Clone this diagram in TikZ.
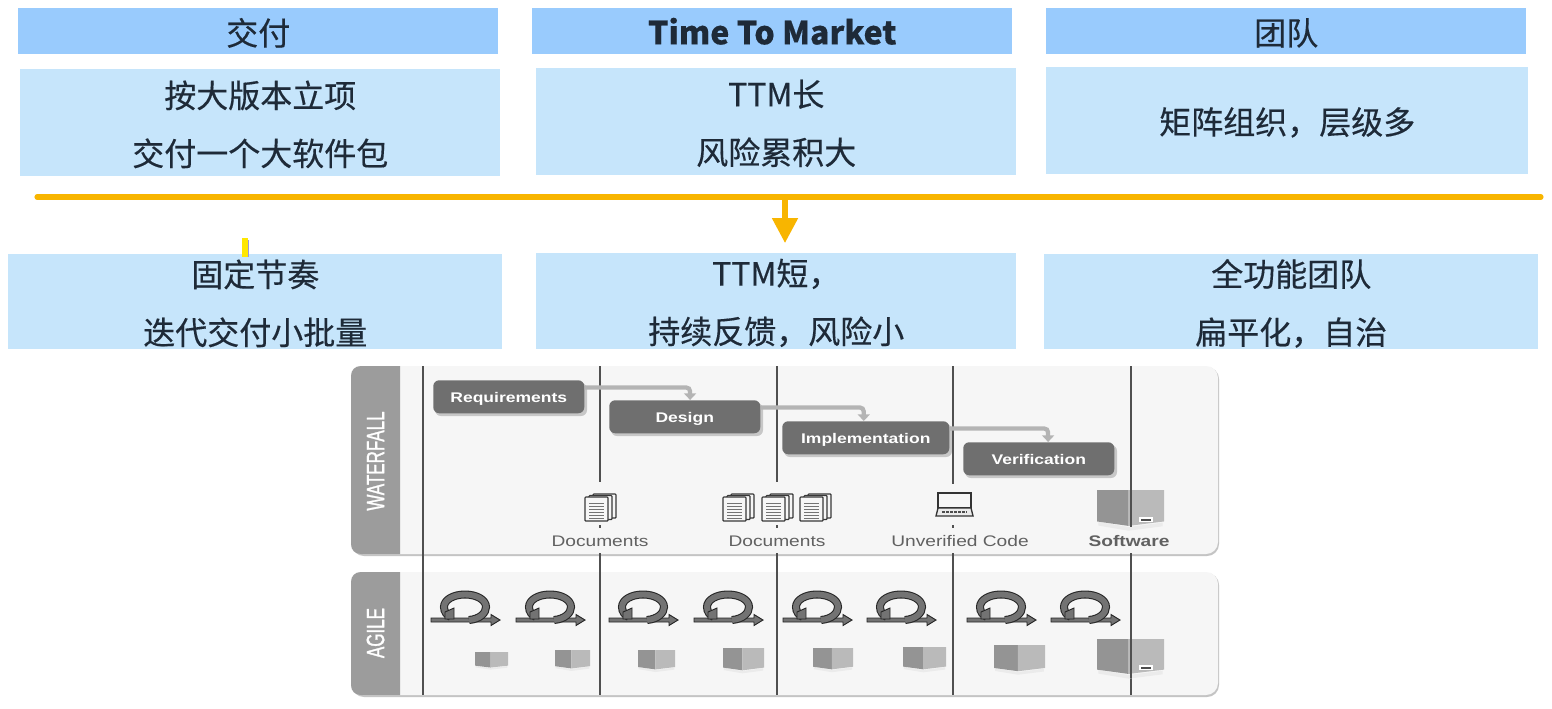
\documentclass[tikz,border=0pt]{standalone}
\usepackage{fontspec}
\usetikzlibrary{arrows.meta}
\setmainfont[FakeBold=0.35]{Noto Sans CJK SC}
\newfontfamily\wide[FakeStretch=1.25]{Liberation Sans}
\newfontfamily\narrow[FakeStretch=0.68,FakeBold=1.2]{Liberation Sans}
\definecolor{hdrblue}{HTML}{99CBFD}
\definecolor{bodyblue}{HTML}{C6E5FB}
\definecolor{inkc}{HTML}{1E2A38}
\definecolor{orangec}{HTML}{F8B500}
\definecolor{panelc}{HTML}{F6F6F6}
\definecolor{panelb}{HTML}{C4C4C4}
\definecolor{stripc}{HTML}{9C9C9C}
\definecolor{stepc}{HTML}{6F6F6F}
\definecolor{linkc}{HTML}{B4B4B4}
\definecolor{gridc}{HTML}{505050}
\tikzset{
  x=0.75pt,y=-0.75pt,
  hdrbox/.style={fill=hdrblue,text=inkc,inner sep=0pt,anchor=north west,font=\fontsize{24pt}{28pt}\selectfont},
  bodybox/.style={fill=bodyblue,text=inkc,inner sep=0pt,anchor=north west,align=center,font=\fontsize{24pt}{43.5pt}\selectfont},
  stepbox/.style={fill=stepc,rounded corners=4.5pt,inner sep=0pt,anchor=north west,text=white,text height=10pt,text depth=2pt,font=\wide\bfseries\fontsize{10.5pt}{12pt}\selectfont},
  stepshadow/.style={fill=black!22,rounded corners=4.5pt,draw=none},
  linkline/.style={draw=linkc,line width=3.2pt,rounded corners=3pt,-{Triangle[width=9pt,length=5pt]}},
  gridline/.style={draw=gridc,line width=0.85pt},
  artlabel/.style={text=black!62,font=\wide\fontsize{11.5pt}{13pt}\selectfont,inner sep=0pt},
  sidelabel/.style={text=white,rotate=90,inner sep=0pt,font=\narrow\fontsize{18.75pt}{20pt}\selectfont},
  panelbox/.style={fill=panelc,rounded corners=9pt},
  panelshade/.style={fill=panelb,rounded corners=9pt},
  loopring/.style={draw=black!85,line width=0.8pt,double=black!55,double distance=4.4pt},
  looparrow/.style={draw=black!85,fill=black!55,line width=0.7pt,line join=miter},
  sheet/.style={draw=black!78,fill=panelc,line width=0.85pt,rounded corners=0.6pt},
  sheetline/.style={draw=black!55,line width=0.7pt},
}
% lowers a text line without changing its box
\newcommand{\tl}[1]{\raisebox{-1.2pt}[\height][\depth]{#1}}
% size helper: style, name, x1, y1, x2, y2, text
\newcommand{\pxbox}[7]{\node[#1,minimum width={(#5-#3)*0.75pt},minimum height={(#6-#4)*0.75pt}] (#2) at (#3,#4) {#7};}
\newcommand{\docicon}[2]{%
  \begin{scope}[shift={(#1,#2)}]
    \draw[sheet] (8,-3) rectangle (31,21);
    \draw[sheet] (4,-1.5) rectangle (27,22.5);
    \draw[sheet] (0,0) rectangle (23,24);
    \foreach \yy in {6,9,12,15,18,21} {\draw[sheetline] (4,\yy) -- (19,\yy);}
  \end{scope}}
\newcommand{\laptopicon}[2]{%
  \begin{scope}[shift={(#1,#2)}]
    \draw[draw=black!80,fill=panelc,line width=1pt] (2,0) rectangle (35,15);
    \draw[draw=black!80,fill=black!8,line width=1pt] (2,15) -- (35,15) -- (37,23) -- (0,23) -- cycle;
    \draw[draw=black!70,line width=1pt,dash pattern=on 2pt off 1pt] (6,19) -- (31,19);
  \end{scope}}
% x1 y1 x2 y2
\newcommand{\cubeart}[4]{%
  \pgfmathsetmacro{\cubew}{(#3-#1)*0.75}%
  \pgfmathsetmacro{\cubeh}{(#4-#2)*-0.75}%
  \begin{scope}[shift={(#1,#2)},x={\cubew pt},y={\cubeh pt}]
    \fill[black!8] (0.02,0.86) -- (0.47,1.0) -- (0.98,0.88) -- (0.98,0.98) -- (0.47,1.1) -- (0.02,0.96) -- cycle;
    \fill[black!42] (0,0) -- (0.47,0) -- (0.47,0.97) -- (0,0.85) -- cycle;
    \fill[black!27] (0.47,0) -- (1,0) -- (1,0.85) -- (0.47,0.97) -- cycle;
  \end{scope}}
\newcommand{\cubetag}[2]{\fill[white] (#1,#2) rectangle ++(14,5); \fill[black!70] (#1+2,#2+1.5) rectangle ++(10,2);}
\newcommand{\loopart}[1]{%
  \begin{scope}[shift={(#1,620)}]
    \draw[looparrow] (0,-2) -- (60,-2) -- (60,-5.5) -- (69,0) -- (60,5.5) -- (60,2) -- (0,2) -- cycle;
    \draw[loopring] (38,0) .. controls (49,-1) and (55,-7) .. (55,-13) .. controls (55,-20) and (46,-25.5) .. (34,-25.5) .. controls (22,-25.5) and (13,-20) .. (13,-13) .. controls (13,-8) and (16,-5) .. (20,-3);
    \draw[looparrow] (14,-1) -- (23,-1) -- (23,-12) -- (14,-8) -- cycle;
  \end{scope}}
\begin{document}
\begin{tikzpicture}
\useasboundingbox (0,0) rectangle (1552,708);
\fill[white] (0,0) rectangle (1552,708);

% headers
\pxbox{hdrbox}{h1}{18}{8}{498}{54}{\tl{交付}}
\pxbox{hdrbox}{h2}{532}{8}{1012}{54}{\bfseries Time To Market}
\pxbox{hdrbox}{h3}{1046}{8}{1526}{54}{\tl{团队}}
% old state
\pxbox{bodybox}{a1}{20}{69}{500}{176}{\tl{按大版本立项}\\\tl{交付一个大软件包}}
\pxbox{bodybox}{a2}{536}{68}{1016}{175}{\tl{TTM长}\\\tl{风险累积大}}
\pxbox{bodybox}{a3}{1046}{67}{1528}{174}{\tl{矩阵组织，层级多}}
% separator and arrow
\coordinate (barl) at (37,197);
\coordinate (barr) at (1541,197);
\coordinate (barm) at (785,197);
\coordinate (tipc) at (785,243);
\draw[orangec,line width=3.8pt,line cap=round] (barl) -- (barr);
% new state
\pxbox{bodybox}{b1}{8}{254}{502}{349}{\tl{固定节奏}\\\tl{迭代交付小批量}}
\pxbox{bodybox}{b2}{536}{253}{1016}{349}{\tl{TTM短，}\\\tl{持续反馈，风险小}}
\pxbox{bodybox}{b3}{1044}{254}{1538}{349}{\tl{全功能团队}\\\tl{扁平化，自治}}
\draw[orangec,line width=3.8pt,-{Triangle[width=18.75pt,length=18.75pt]}] (barm) -- (tipc);
\fill[yellow!90!orange] (242,238) rectangle (248,257);
\fill[black!35!blue!40] (248,240) rectangle (249,257);

% waterfall panel
\fill[panelshade] (352,367) rectangle (1219,556);
\fill[panelbox] (351,366) rectangle (1218,554);
\fill[stripc] (400,366) -- (361,366) .. controls (355,366) and (351,370) .. (351,376) -- (351,544) .. controls (351,550) and (355,554) .. (361,554) -- (400,554) -- cycle;
\node[sidelabel] (wlabel) at (375.5,461) {WATERFALL};
% agile panel
\fill[panelshade] (352,573) rectangle (1219,697);
\fill[panelbox] (351,572) rectangle (1218,695);
\fill[stripc] (400,572) -- (361,572) .. controls (355,572) and (351,576) .. (351,582) -- (351,685) .. controls (351,691) and (355,695) .. (361,695) -- (400,695) -- cycle;
\node[sidelabel] (alabel) at (375.5,633) {AGILE};

% process step shadows and boxes
\fill[stepshadow] (435,383) rectangle (587,416);
\fill[stepshadow] (611,403) rectangle (763,436);
\fill[stepshadow] (784,424) rectangle (952,457);
\fill[stepshadow] (965,445) rectangle (1117,478);
\pxbox{stepbox}{req}{433}{380}{584}{413}{Requirements}
\pxbox{stepbox}{des}{609}{400}{760}{433}{Design}
\pxbox{stepbox}{imp}{782}{421}{949}{454}{Implementation}
\pxbox{stepbox}{ver}{963}{442}{1114}{475}{Verification}

% time grid
\coordinate (g0t) at (423,366); \coordinate (g0b) at (423,695);
\draw[gridline] (g0t) -- (g0b);
\foreach \xx/\ya in {600/482,777/482,953/484,1131/490} {
  \coordinate (gt) at (\xx,366); \coordinate (gm) at (\xx,\ya);
  \coordinate (gn) at (\xx,553); \coordinate (gb) at (\xx,695);
  \draw[gridline] (gt) -- (gm);
  \draw[gridline] (gn) -- (gb);
}
\foreach \xx in {600,777,953} {\draw[gridline] (\xx,525) -- (\xx,528);}

\draw[linkline] ([yshift=7pt]req.east) -| ([xshift=4pt]des.north);
\draw[linkline] ([yshift=7pt]des.east) -| ([xshift=-1.5pt]imp.north);
\draw[linkline] ([yshift=7pt]imp.east) -| ([xshift=7pt]ver.north);

% artefacts
\docicon{585}{497}
\docicon{723}{497}
\docicon{762}{497}
\docicon{800}{497}
\laptopicon{936}{493}
\cubeart{1097}{490}{1164}{527}
\cubetag{1139}{517}
\draw[gridline] (1131,490) -- (1131,527);
\node[artlabel] (d1) at (600,541) {Documents};
\node[artlabel] (d2) at (777,541) {Documents};
\node[artlabel] (uc) at (960,541) {Unverified Code};
\node[artlabel,font=\wide\bfseries\fontsize{11.5pt}{13pt}\selectfont] (sw) at (1129,541) {Software};

% agile iterations
\foreach \xx in {431,516,609,694,783,867,967,1051} {\loopart{\xx}}
\cubeart{475}{652}{508}{668}
\cubeart{555}{650}{590}{669}
\cubeart{638}{650}{675}{670}
\cubeart{723}{648}{764}{671}
\cubeart{813}{648}{853}{670}
\cubeart{903}{647}{946}{670}
\cubeart{994}{645}{1045}{672}
\cubeart{1097}{639}{1164}{675}
\cubetag{1139}{665}
\draw[gridline] (1131,639) -- (1131,678);
\end{tikzpicture}
\end{document}
